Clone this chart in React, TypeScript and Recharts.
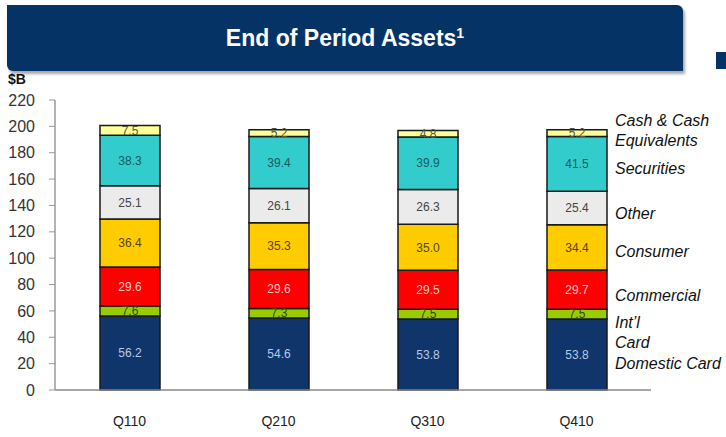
import React from "react";
import { BarChart, Bar, XAxis, YAxis, LabelList } from "recharts";

const quarters = ["Q110", "Q210", "Q310", "Q410"];
const domesticCard = [56.2, 54.6, 53.8, 53.8];
const intlCard = [7.6, 7.3, 7.5, 7.5];
const commercial = [29.6, 29.6, 29.5, 29.7];
const consumer = [36.4, 35.3, 35.0, 34.4];
const other = [25.1, 26.1, 26.3, 25.4];
const securities = [38.3, 39.4, 39.9, 41.5];
const cash = [7.5, 5.2, 4.8, 5.2];
const yTicks = [0, 20, 40, 60, 80, 100, 120, 140, 160, 180, 200, 220];

const series = [
  { key: "domestic", values: domesticCard, fill: "#0f356a", text: "#b8c8e8" },
  { key: "intl", values: intlCard, fill: "#99cc00", text: "#2f4a00" },
  { key: "commercial", values: commercial, fill: "#ff0000", text: "#ffc8c8" },
  { key: "consumer", values: consumer, fill: "#ffcc00", text: "#5a4300" },
  { key: "other", values: other, fill: "#ebebeb", text: "#444444" },
  { key: "securities", values: securities, fill: "#33cccc", text: "#145c5c" },
  { key: "cash", values: cash, fill: "#ffff99", text: "#555533" },
];

// legend labels on the right, with their baseline y
const legendLines = [
  { text: "Cash & Cash", y: 126 },
  { text: "Equivalents", y: 146 },
  { text: "Securities", y: 174 },
  { text: "Other", y: 219 },
  { text: "Consumer", y: 257 },
  { text: "Commercial", y: 301 },
  { text: "Int\u2019l", y: 328 },
  { text: "Card", y: 348 },
  { text: "Domestic Card", y: 369 },
];

const data = quarters.map((q, i) => {
  const row: Record<string, string | number> = { quarter: q };
  series.forEach((s) => {
    row[s.key] = s.values[i];
  });
  return row;
});

const font = "'Liberation Sans', Arial, sans-serif";

export default function App() {
  return (
    <div style={{ position: "absolute", left: 0, top: 0, width: 726, height: 437, background: "#fff", fontFamily: font, overflow: "hidden" }}>
      {/* title banner */}
      <div
        style={{
          position: "absolute", left: 7, top: 5, width: 676, height: 66,
          background: "#063366", borderRadius: "0 6px 0 6px",
          boxShadow: "2px 3px 3px rgba(0,0,0,0.35)",
          color: "#fff", fontWeight: "bold", fontSize: 23,
          display: "flex", alignItems: "center", justifyContent: "center",
        }}
      >
        <span>End of Period Assets<sup style={{ fontSize: 14, verticalAlign: "8px" }}>1</sup></span>
      </div>
      <div style={{ position: "absolute", left: 716, top: 52, width: 14, height: 17, background: "#063366" }} />
      <div style={{ position: "absolute", left: 8, top: 71, fontWeight: "bold", fontSize: 14, color: "#111" }}>$B</div>

      <BarChart
        width={726}
        height={437}
        data={data}
        margin={{ top: 100, right: 75, bottom: 17, left: 0 }}
        barSize={60}
      >
        <XAxis
          dataKey="quarter"
          tickLine={false}
          axisLine={{ stroke: "#888", strokeWidth: 1.5 }}
          tick={{ fill: "#222", fontSize: 14, fontFamily: font }}
          tickMargin={20}
          height={30}
        />
        <YAxis
          domain={[0, 220]}
          ticks={yTicks}
          interval={0}
          width={55}
          axisLine={{ stroke: "#999", strokeWidth: 1.5 }}
          tickLine={{ stroke: "#999" }}
          tickSize={6}
          tickMargin={14}
          tick={{ fill: "#333", fontSize: 16, fontFamily: font }}
        />
        {series.map((s) => (
          <Bar key={s.key} dataKey={s.key} stackId="a" fill={s.fill} stroke="#1a1a1a" strokeWidth={1.5} isAnimationActive={false}>
            <LabelList dataKey={s.key} position="center" fill={s.text} fontSize={12} fontFamily={font} formatter={(v: any) => Number(v).toFixed(1)} />
          </Bar>
        ))}
      </BarChart>

      {legendLines.map((l) => (
        <div key={l.text} style={{ position: "absolute", left: 615, top: l.y - 14, fontStyle: "italic", fontSize: 16, color: "#111", whiteSpace: "nowrap" }}>
          {l.text}
        </div>
      ))}
    </div>
  );
}
